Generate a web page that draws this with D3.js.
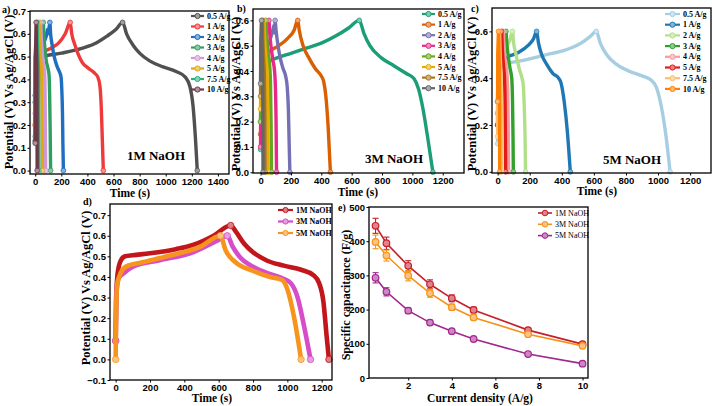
<!DOCTYPE html>
<html>
<head>
<meta charset="utf-8">
<script src="https://cdn.jsdelivr.net/npm/d3@7"></script>
<style>
  body { margin: 0; background: #fff; }
  svg { display: block; font-family: "Liberation Serif", "Times New Roman", serif; font-weight: bold; }
</style>
</head>
<body>
<svg id="fig" width="712" height="406"></svg>
<script>
// ---- data: [time (s), potential (V)] ----
const rateLabels = ["0.5 A/g", "1 A/g", "2 A/g", "3 A/g", "4 A/g", "5 A/g", "7.5 A/g", "10 A/g"];

// a) 1M NaOH
const a_05 = [[0,0.13],[4,0.42],[20,0.49],[60,0.5],[200,0.515],[350,0.535],[450,0.555],[550,0.59],[620,0.62],[670,0.65],[700,0.6],[750,0.55],[800,0.515],[880,0.48],[980,0.455],[1080,0.435],[1150,0.41],[1185,0.37],[1210,0.28],[1228,0.14],[1242,0]];
const a_1  = [[0,0.2],[3,0.45],[15,0.5],[60,0.52],[130,0.54],[180,0.56],[230,0.6],[268,0.65],[280,0.6],[305,0.55],[330,0.51],[360,0.475],[405,0.45],[450,0.43],[480,0.41],[496,0.37],[506,0.28],[514,0.14],[522,0]];
const a_2  = [[0,0.33],[3,0.48],[15,0.52],[50,0.55],[85,0.59],[95,0.62],[100,0.6],[112,0.65],[118,0.6],[130,0.55],[142,0.51],[157,0.475],[172,0.45],[188,0.43],[198,0.41],[204,0.35],[209,0.25],[212,0.12],[216,0]];
const a_3  = [[0,0.3],[2,0.5],[20,0.53],[45,0.58],[62,0.65],[66,0.6],[75,0.53],[85,0.48],[97,0.45],[106,0.42],[110,0.35],[114,0.2],[118,0]];
const a_4  = [[0,0.25],[2,0.5],[15,0.54],[30,0.58],[42,0.65],[45,0.6],[52,0.53],[60,0.48],[68,0.45],[73,0.42],[76,0.3],[80,0]];
const a_5  = [[0,0.2],[2,0.5],[10,0.54],[20,0.58],[28,0.65],[31,0.6],[36,0.53],[42,0.48],[47,0.45],[50,0.4],[53,0.25],[55,0]];
const a_75 = [[0,0.15],[1,0.5],[6,0.55],[14,0.65],[16,0.58],[20,0.5],[24,0.45],[26,0.35],[28,0]];
const a_10 = [[0,0.12],[1,0.5],[4,0.56],[7,0.65],[8,0.58],[11,0.5],[13,0.42],[15,0]];

// b) 3M NaOH
const b_05 = [[0,0.09],[4,0.36],[20,0.42],[60,0.44],[100,0.45],[200,0.47],[300,0.49],[400,0.51],[500,0.54],[580,0.57],[650,0.6],[680,0.55],[720,0.5],[800,0.45],[880,0.42],[960,0.39],[1010,0.37],[1040,0.33],[1070,0.25],[1100,0.14],[1135,0]];
const b_1  = [[0,0.15],[3,0.4],[15,0.46],[60,0.48],[120,0.5],[180,0.53],[220,0.56],[245,0.6],[255,0.56],[280,0.5],[320,0.45],[360,0.41],[400,0.38],[415,0.36],[430,0.3],[445,0.18],[460,0]];
const b_2  = [[0,0.2],[3,0.42],[20,0.47],[60,0.52],[80,0.56],[88,0.58],[92,0.55],[96,0.6],[102,0.56],[115,0.5],[130,0.45],[148,0.41],[165,0.38],[175,0.34],[183,0.25],[188,0.12],[193,0]];
const b_3  = [[0,0.1],[2,0.45],[15,0.5],[35,0.54],[55,0.6],[60,0.55],[70,0.49],[82,0.44],[92,0.4],[98,0.33],[102,0.2],[105,0]];
const b_4  = [[0,0.2],[2,0.42],[15,0.5],[35,0.6],[40,0.53],[50,0.47],[60,0.42],[65,0.36],[69,0.2],[72,0]];
const b_5  = [[0,0.25],[1,0.45],[10,0.52],[22,0.6],[26,0.53],[34,0.46],[42,0.4],[46,0.3],[50,0]];
const b_75 = [[0,0.3],[1,0.48],[6,0.54],[12,0.6],[15,0.52],[20,0.45],[25,0.38],[28,0.2],[30,0]];
const b_10 = [[0,0.35],[1,0.5],[3,0.55],[6,0.6],[8,0.52],[11,0.45],[14,0.35],[16,0]];

// c) 5M NaOH
const c_05 = [[0,0.12],[3,0.38],[15,0.44],[50,0.46],[150,0.475],[300,0.5],[420,0.52],[520,0.55],[580,0.58],[615,0.6],[640,0.55],[680,0.5],[740,0.46],[820,0.43],[900,0.41],[960,0.39],[990,0.36],[1020,0.28],[1050,0.15],[1075,0]];
const c_1  = [[0,0.2],[3,0.42],[15,0.47],[60,0.49],[130,0.51],[190,0.54],[225,0.57],[243,0.6],[255,0.55],[275,0.5],[305,0.46],[345,0.42],[380,0.4],[395,0.38],[415,0.3],[435,0.17],[453,0]];
const c_2  = [[0,0.25],[3,0.45],[20,0.5],[60,0.54],[80,0.57],[92,0.6],[100,0.55],[115,0.5],[135,0.44],[152,0.4],[160,0.37],[166,0.28],[171,0.15],[174,0]];
const c_3  = [[0,0.3],[2,0.46],[15,0.52],[35,0.56],[52,0.6],[57,0.55],[67,0.49],[78,0.44],[88,0.4],[93,0.3],[96,0.15],[98,0]];
const c_4  = [[0,0.25],[2,0.45],[15,0.52],[35,0.6],[40,0.53],[50,0.46],[58,0.42],[63,0.35],[66,0.2],[68,0]];
const c_5  = [[0,0.2],[1,0.45],[10,0.52],[25,0.6],[29,0.53],[36,0.46],[43,0.4],[47,0.28],[50,0]];
const c_75 = [[0,0.15],[1,0.45],[6,0.53],[12,0.6],[15,0.52],[19,0.45],[22,0.38],[24,0.2],[25,0]];
const c_10 = [[0,0.3],[1,0.5],[3,0.55],[6,0.6],[8,0.52],[10,0.45],[12,0.3],[13,0]];

// d) comparison at 0.5 A/g
const dLabels = ["1M NaOH", "3M NaOH", "5M NaOH"];
const d_1M = [[0,0.09],[3,0.3],[12,0.42],[30,0.48],[55,0.5],[100,0.505],[200,0.515],[350,0.535],[450,0.555],[570,0.6],[670,0.65],[700,0.62],[750,0.56],[800,0.52],[880,0.48],[980,0.455],[1080,0.435],[1150,0.41],[1185,0.37],[1210,0.28],[1228,0.12],[1242,0]];
const d_3M = [[0,0.09],[3,0.3],[15,0.39],[50,0.42],[100,0.45],[250,0.48],[450,0.52],[600,0.58],[650,0.6],[680,0.55],[720,0.5],[800,0.45],[880,0.42],[980,0.39],[1020,0.37],[1060,0.3],[1100,0.15],[1135,0]];
const d_5M = [[0,0],[2,0.2],[8,0.35],[20,0.4],[60,0.45],[150,0.47],[300,0.5],[500,0.55],[610,0.6],[640,0.53],[700,0.47],[800,0.43],[900,0.4],[970,0.385],[1000,0.34],[1040,0.2],[1080,0]];

// e) specific capacitance vs current density
const eLabels = ["1M NaOH", "3M NaOH", "5M NaOH"];
const currentDensity = [0.5, 1, 2, 3, 4, 5, 7.5, 10];
const cap1M = [445, 394, 328, 274, 233, 199, 140, 99];
const cap3M = [398, 358, 299, 248, 207, 177, 128, 94];
const cap5M = [293, 252, 197, 162, 137, 114, 70, 42];
const err1M = [22, 18, 15, 13, 10, 8, 6, 4];
const err3M = [20, 16, 15, 12, 9, 7, 5, 4];
const err5M = [15, 12, 8, 7, 5, 4, 3, 3];

// tick labels
const time1400 = [0, 200, 400, 600, 800, 1000, 1200, 1400];
const time1200 = [0, 200, 400, 600, 800, 1000, 1200];
const v07 = [0, 0.1, 0.2, 0.3, 0.4, 0.5, 0.6, 0.7];
const v06 = [0, 0.1, 0.2, 0.3, 0.4, 0.5, 0.6];
const v06b = [0, 0.2, 0.4, 0.6];
const vD = [-0.1, 0, 0.1, 0.2, 0.3, 0.4, 0.5, 0.6, 0.7];
const capTicks = [0, 100, 200, 300, 400, 500];
const cdTicks = [2, 4, 6, 8, 10];

// colours
const aColors = ["#505050", "#ee3a3a", "#1f6fc0", "#2f9f60", "#cf98d6", "#e2a516", "#27b27a", "#6e3848"];
const bColors = d3.schemeDark2.slice(0, 8);
const cColors = d3.schemePaired.slice(0, 8);
const dColors = ["#c3161c", "#d64cc9", "#f7941d"];
const eColors = ["#c51f2b", "#f59219", "#a1268f"];

const svg = d3.select("#fig");
const light = c => d3.interpolateRgb(c, "#ffffff")(0.45);

function axes(g, p, x, y) {
  const ax = g.append("g").attr("transform", `translate(0,${p.bottom})`)
    .call(d3.axisBottom(x).tickValues(p.xTicks).tickSize(2.5).tickPadding(1.5).tickFormat(d3.format("d")));
  const ay = g.append("g").attr("transform", `translate(${p.left},0)`)
    .call(d3.axisLeft(y).tickValues(p.yTicks).tickSize(2.5).tickPadding(1.5).tickFormat(p.yFmt));
  [ax, ay].forEach(a => {
    a.selectAll("text").style("font-size", "9.5px").style("font-weight", "bold").attr("fill", "#000");
    a.select(".domain").remove();
  });
  g.append("rect")
    .attr("x", p.left).attr("y", p.top)
    .attr("width", p.right - p.left).attr("height", p.bottom - p.top)
    .attr("fill", "none").attr("stroke", "#000").attr("stroke-width", 1.3);

  g.append("text").attr("x", p.xTitle[0]).attr("y", p.xTitle[1])
    .attr("text-anchor", "middle").style("font-size", "11.5px").text(p.xTitleText);
  g.append("text")
    .attr("transform", `translate(${p.yTitle[0]},${p.yTitle[1]}) rotate(-90)`)
    .attr("text-anchor", p.yTitle[2]).attr("dy", "0.35em")
    .style("font-size", p.yTitle[3] + "px").text(p.yTitleText);
  g.append("text").attr("x", p.tag[0]).attr("y", p.tag[1]).style("font-size", "10px").text(p.tagText);
}

function gcdPanel(p) {
  const g = svg.append("g");
  const x = d3.scaleLinear().domain(p.xDomain).range([p.left, p.right]);
  const y = d3.scaleLinear().domain(p.yDomain).range([p.bottom, p.top]);
  const line = d3.line().x(d => x(d[0])).y(d => y(d[1])).curve(d3.curveMonotoneX);

  p.series.forEach((s, i) => {
    g.append("path").datum(s).attr("d", line)
      .attr("fill", "none").attr("stroke", p.colors[i])
      .attr("stroke-width", p.lw).attr("stroke-linejoin", "round");
    const peak = s.reduce((m, d) => d[1] > m[1] ? d : m, s[0]);
    g.selectAll(null).data([s[0], peak, s[s.length - 1]]).enter().append("circle")
      .attr("cx", d => x(d[0])).attr("cy", d => y(d[1])).attr("r", p.lw * 0.7)
      .attr("fill", light(p.colors[i])).attr("stroke", p.colors[i]).attr("stroke-width", 0.8);
  });

  axes(g, p, x, y);

  // legend
  const lg = g.append("g");
  p.names.forEach((n, i) => {
    const yy = p.legend.y0 + i * p.legend.dy;
    lg.append("line").attr("x1", p.legend.x1).attr("x2", p.legend.x2).attr("y1", yy).attr("y2", yy)
      .attr("stroke", p.colors[i]).attr("stroke-width", 2.2);
    lg.append("circle").attr("cx", (p.legend.x1 + p.legend.x2) / 2).attr("cy", yy).attr("r", 2.6)
      .attr("fill", light(p.colors[i])).attr("stroke", p.colors[i]).attr("stroke-width", 1);
    lg.append("text").attr("x", p.legend.x2 + 3).attr("y", yy).attr("dy", "0.33em")
      .style("font-size", p.legend.fs + "px").text(n);
  });

  if (p.note) {
    g.append("text").attr("x", p.note[0]).attr("y", p.note[1]).attr("text-anchor", "middle")
      .style("font-size", "13px").text(p.noteText);
  }
}

gcdPanel({
  series: [a_05, a_1, a_2, a_3, a_4, a_5, a_75, a_10], names: rateLabels, colors: aColors,
  left: 30, right: 229, top: 11, bottom: 174, xDomain: [-40, 1485], yDomain: [-0.015, 0.7],
  xTicks: time1400, yTicks: v07, yFmt: d3.format(".1f"), lw: 3.4,
  legend: { x1: 191, x2: 204, y0: 16, dy: 10.5, fs: 8 },
  xTitle: [130, 197], xTitleText: "Time (s)",
  yTitle: [9, 92, "middle", 12.5], yTitleText: "Potential (V) Vs Ag/AgCl (V)",
  tag: [2, 13], tagText: "a)", note: [156, 160], noteText: "1M NaOH"
});

gcdPanel({
  series: [b_05, b_1, b_2, b_3, b_4, b_5, b_75, b_10], names: rateLabels, colors: bColors,
  left: 253, right: 464, top: 9, bottom: 173, xDomain: [-50, 1340], yDomain: [-0.003, 0.645],
  xTicks: time1200, yTicks: v06, yFmt: d3.format(".1f"), lw: 3.4,
  legend: { x1: 422, x2: 435, y0: 14, dy: 10.6, fs: 8 },
  xTitle: [358, 196], xTitleText: "Time (s)",
  yTitle: [236, 94, "middle", 12.5], yTitleText: "Potential (V) Vs Ag/AgCl (V)",
  tag: [237, 12], tagText: "b)", note: [394, 163], noteText: "3M NaOH"
});

gcdPanel({
  series: [c_05, c_1, c_2, c_3, c_4, c_5, c_75, c_10], names: rateLabels, colors: cColors,
  left: 492, right: 711, top: 8, bottom: 173, xDomain: [-35, 1330], yDomain: [-0.005, 0.7],
  xTicks: time1200, yTicks: v06b, yFmt: d3.format(".1f"), lw: 3.4,
  legend: { x1: 665, x2: 680, y0: 14, dy: 10.7, fs: 8 },
  xTitle: [597, 195], xTitleText: "Time (s)",
  yTitle: [472, 94, "middle", 12.5], yTitleText: "Potential (V) Vs Ag/AgCl (V)",
  tag: [471, 12], tagText: "c)", note: [632, 164], noteText: "5M NaOH"
});

gcdPanel({
  series: [d_1M, d_3M, d_5M], names: dLabels, colors: dColors,
  left: 110, right: 332, top: 204, bottom: 380, xDomain: [-33, 1260], yDomain: [-0.1, 0.754],
  xTicks: time1200, yTicks: vD, yFmt: d3.format(".1f"), lw: 4.6,
  legend: { x1: 278, x2: 293, y0: 210, dy: 11.5, fs: 8 },
  xTitle: [212, 402], xTitleText: "Time (s)",
  yTitle: [86, 288, "middle", 12.5], yTitleText: "Potential (V) Vs Ag/AgCl (V)",
  tag: [83, 205], tagText: "d)"
});

// e) capacitance panel
(function () {
  const p = {
    left: 369, right: 588, top: 207, bottom: 378,
    xTicks: cdTicks, yTicks: capTicks, yFmt: d3.format("d"),
    xTitle: [480, 402], xTitleText: "Current density (A/g)",
    yTitle: [346, 295, "middle", 12], yTitleText: "Specific capacitance (F/g)",
    tag: [338, 211], tagText: "e)"
  };
  const g = svg.append("g");
  const x = d3.scaleLinear().domain([0.2, 10.25]).range([p.left, p.right]);
  const y = d3.scaleLinear().domain([0, 500]).range([p.bottom, p.top]);
  const caps = [cap1M, cap3M, cap5M];
  const errs = [err1M, err3M, err5M];
  const line = d3.line().x((d, i) => x(currentDensity[i])).y(d => y(d));

  caps.forEach((vals, k) => {
    const col = eColors[k];
    g.append("path").datum(vals).attr("d", line)
      .attr("fill", "none").attr("stroke", col).attr("stroke-width", 1.6);
    const pts = vals.map((v, i) => ({ x: currentDensity[i], v: v, e: errs[k][i] }));
    const eb = g.selectAll(null).data(pts).enter().append("g").attr("stroke", col).attr("stroke-width", 1.1);
    eb.append("line").attr("x1", d => x(d.x)).attr("x2", d => x(d.x))
      .attr("y1", d => y(d.v - d.e)).attr("y2", d => y(d.v + d.e));
    eb.append("line").attr("x1", d => x(d.x) - 3).attr("x2", d => x(d.x) + 3)
      .attr("y1", d => y(d.v + d.e)).attr("y2", d => y(d.v + d.e));
    eb.append("line").attr("x1", d => x(d.x) - 3).attr("x2", d => x(d.x) + 3)
      .attr("y1", d => y(d.v - d.e)).attr("y2", d => y(d.v - d.e));
    g.selectAll(null).data(pts).enter().append("circle")
      .attr("cx", d => x(d.x)).attr("cy", d => y(d.v)).attr("r", 3.3)
      .attr("fill", light(col)).attr("stroke", col).attr("stroke-width", 1.2);
  });

  axes(g, p, x, y);

  eLabels.forEach((n, i) => {
    const yy = 213 + i * 11.3;
    g.append("line").attr("x1", 538).attr("x2", 552).attr("y1", yy).attr("y2", yy)
      .attr("stroke", eColors[i]).attr("stroke-width", 1.6);
    g.append("circle").attr("cx", 545).attr("cy", yy).attr("r", 2.8)
      .attr("fill", light(eColors[i])).attr("stroke", eColors[i]).attr("stroke-width", 1);
    g.append("text").attr("x", 555).attr("y", yy).attr("dy", "0.33em")
      .style("font-size", "8px").style("font-weight", "normal").text(n);
  });
})();
</script>
</body>
</html>
